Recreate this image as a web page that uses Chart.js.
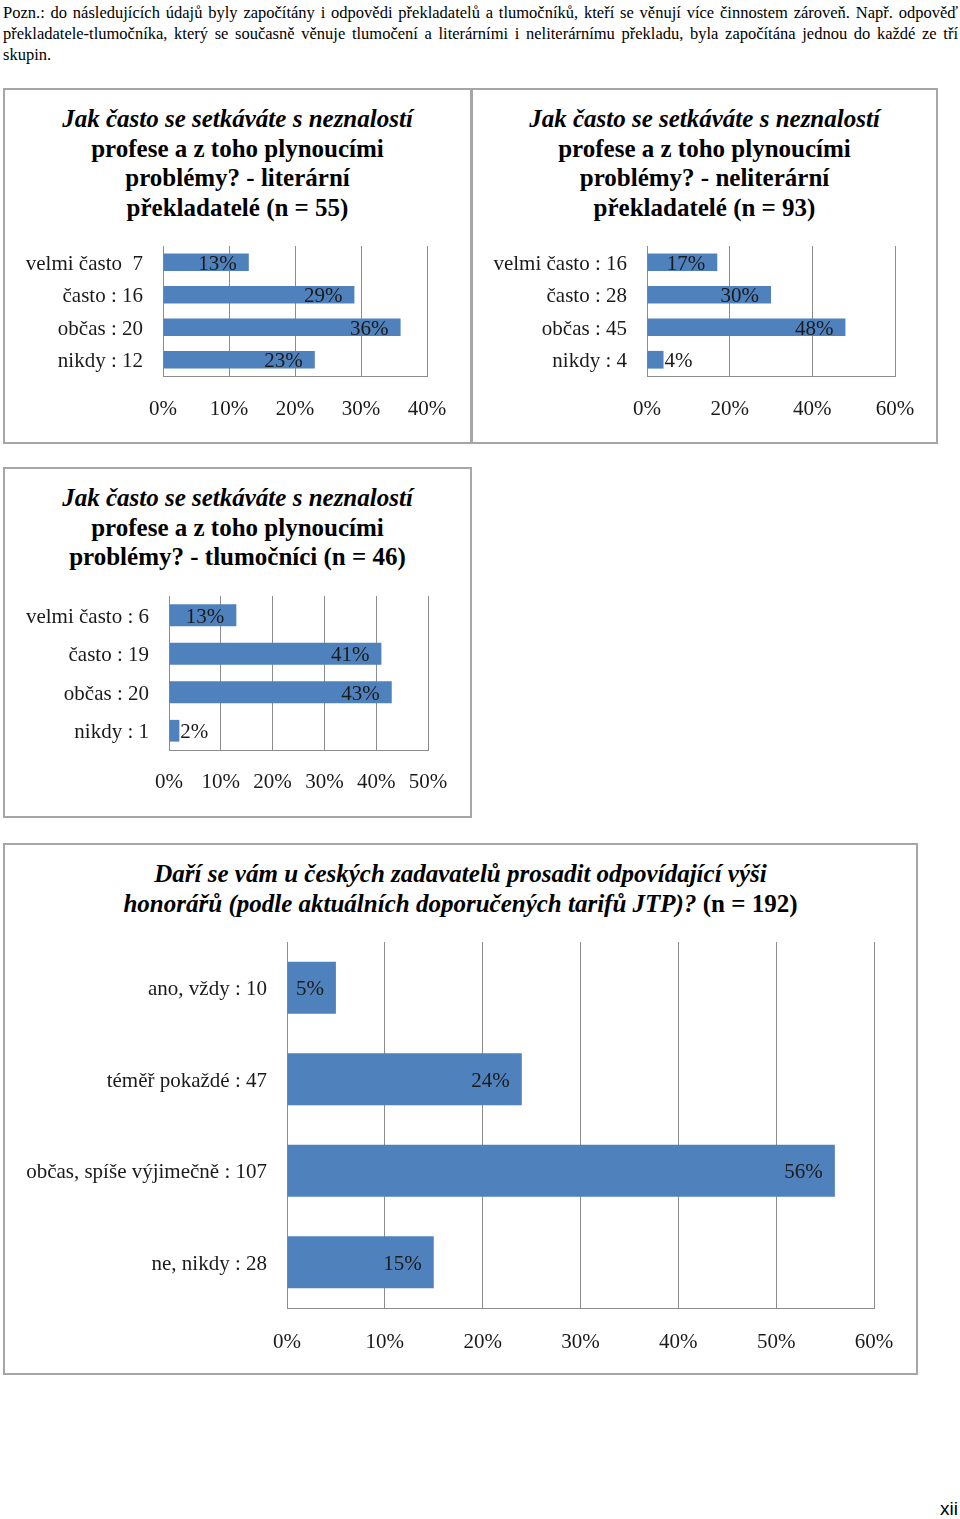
<!DOCTYPE html>
<html>
<head>
<meta charset="utf-8">
<script src="https://cdn.jsdelivr.net/npm/chart.js@4/dist/chart.umd.min.js"></script>
<style>
  html, body { margin: 0; padding: 0; background: #fff; }
  body { width: 960px; height: 1519px; position: relative; overflow: hidden; font-family: "Liberation Serif", "Times New Roman", serif; color: #000; }
  .note { position: absolute; left: 3px; width: 955px; font-size: 16.5px; line-height: 21px; white-space: nowrap; }
  .note div { text-align: justify; text-align-last: justify; }
  .note div.last { text-align-last: left; }
  .box { position: absolute; border: 2px solid #a6a6a6; box-sizing: border-box; background: #fff; }
  .title { position: absolute; left: 0; width: 100%; text-align: center; font-weight: bold; font-size: 25px; line-height: 29.6px; color: #000; }
  .title i { font-style: italic; }
  canvas { position: absolute; }
  .page { position: absolute; right: 2px; top: 1498px; font-family: "Liberation Sans", Arial, sans-serif; font-size: 19px; }
</style>
</head>
<body>
<div class="note" style="top:2px">
  <div>Pozn.: do následujících údajů byly započítány i odpovědi překladatelů a tlumočníků, kteří se věnují více činnostem zároveň. Např. odpověď</div>
  <div>překladatele-tlumočníka, který se současně věnuje tlumočení a literárními i neliterárnímu překladu, byla započítána jednou do každé ze tří</div>
  <div class="last">skupin.</div>
</div>

<div class="box" style="left:3px;top:88px;width:469px;height:356px;">
  <div class="title" style="top:14px"><i>Jak často se setkáváte s neznalostí</i><br>profese a z toho plynoucími<br>problémy? - literární<br>překladatelé (n = 55)</div>
</div>
<div class="box" style="left:471px;top:88px;width:467px;height:356px;">
  <div class="title" style="top:14px"><i>Jak často se setkáváte s neznalostí</i><br>profese a z toho plynoucími<br>problémy? - neliterární<br>překladatelé (n = 93)</div>
</div>
<div class="box" style="left:3px;top:467px;width:469px;height:351px;">
  <div class="title" style="top:14px"><i>Jak často se setkáváte s neznalostí</i><br>profese a z toho plynoucími<br>problémy? - tlumočníci (n = 46)</div>
</div>
<div class="box" style="left:3px;top:843px;width:915px;height:532px;">
  <div class="title" style="top:14px"><i>Daří se vám u českých zadavatelů prosadit odpovídající výši<br>honorářů (podle aktuálních doporučených tarifů JTP)?</i> (n = 192)</div>
</div>

<canvas id="c1" width="462" height="200" style="left:5px;top:236px"></canvas>
<canvas id="c2" width="462" height="200" style="left:473px;top:236px"></canvas>
<canvas id="c3" width="462" height="220" style="left:5px;top:586px"></canvas>
<canvas id="c4" width="910" height="435" style="left:5px;top:932px"></canvas>

<div class="page">xii</div>

<script>
// ---- data ----
const cats1 = ['velmi často  7', 'často : 16', 'občas : 20', 'nikdy : 12'];
const vals1 = [13, 29, 36, 23];
const max1 = 40, step1 = 10;

const cats2 = ['velmi často : 16', 'často : 28', 'občas : 45', 'nikdy : 4'];
const vals2 = [17, 30, 48, 4];
const max2 = 60, step2 = 20;

const cats3 = ['velmi často : 6', 'často : 19', 'občas : 20', 'nikdy : 1'];
const vals3 = [13, 41, 43, 2];
const max3 = 50, step3 = 10;

const cats4 = ['ano, vždy : 10', 'téměř pokaždé : 47', 'občas, spíše výjimečně : 107', 'ne, nikdy : 28'];
const vals4 = [5, 24, 56, 15];
const max4 = 60, step4 = 10;

// ---- styling ----
const FONT = '"Liberation Serif", "Times New Roman", serif';
const BAR = '#4F81BD';
const GRID = '#8c8c8c';
const TXT = '#1a1a1a';
const FS = 21;

const valueLabels = {
  id: 'valueLabels',
  afterDatasetsDraw(chart) {
    const ctx = chart.ctx;
    const ds = chart.data.datasets[0];
    const meta = chart.getDatasetMeta(0);
    ctx.save();
    ctx.font = FS + 'px ' + FONT;
    ctx.fillStyle = TXT;
    ctx.textBaseline = 'middle';
    meta.data.forEach((bar, i) => {
      const txt = ds.data[i] + '%';
      const w = ctx.measureText(txt).width;
      const len = bar.x - bar.base;
      if (len > w + 14) {
        ctx.textAlign = 'right';
        ctx.fillText(txt, bar.x - 12, bar.y + 2);
      } else {
        ctx.textAlign = 'left';
        ctx.fillText(txt, bar.x + 1, bar.y + 2);
      }
    });
    ctx.restore();
  }
};

function makeChart(id, cats, vals, max, step, o) {
  return new Chart(document.getElementById(id), {
    type: 'bar',
    data: {
      labels: cats,
      datasets: [{
        data: vals,
        backgroundColor: BAR,
        borderWidth: 0,
        categoryPercentage: 1,
        barPercentage: o.barPct
      }]
    },
    options: {
      indexAxis: 'y',
      responsive: false,
      animation: false,
      layout: { padding: { left: 0, right: o.padRight, top: o.padTop, bottom: 0 } },
      plugins: { legend: { display: false }, tooltip: { enabled: false }, title: { display: false } },
      scales: {
        x: {
          min: 0, max: max,
          grid: { display: true, color: GRID, lineWidth: 1, drawTicks: false },
          border: { display: true, color: GRID, width: 1 },
          ticks: {
            stepSize: step,
            padding: o.xPad,
            color: TXT,
            font: { family: FONT, size: FS },
            callback: v => v + '%'
          },
          afterFit: s => { s.height = o.xHeight; s.paddingLeft = 0; s.paddingRight = 0; }
        },
        y: {
          grid: { display: false, drawTicks: false },
          border: { display: true, color: GRID, width: 1 },
          ticks: {
            padding: 20,
            labelOffset: 2,
            color: TXT,
            font: { family: FONT, size: FS }
          },
          afterFit: s => { s.width = o.yWidth; s.paddingTop = 0; s.paddingBottom = 0; }
        }
      }
    },
    plugins: [valueLabels]
  });
}

makeChart('c1', cats1, vals1, max1, step1, { yWidth: 158, xHeight: 60, padRight: 40, padTop: 10, xPad: 21, barPct: 0.545 });
makeChart('c2', cats2, vals2, max2, step2, { yWidth: 174, xHeight: 60, padRight: 40, padTop: 10, xPad: 21, barPct: 0.545 });
makeChart('c3', cats3, vals3, max3, step3, { yWidth: 164, xHeight: 56, padRight: 39, padTop: 10, xPad: 20, barPct: 0.565 });
makeChart('c4', cats4, vals4, max4, step4, { yWidth: 282, xHeight: 59, padRight: 41, padTop: 10, xPad: 22, barPct: 0.57 });
</script>
</body>
</html>
